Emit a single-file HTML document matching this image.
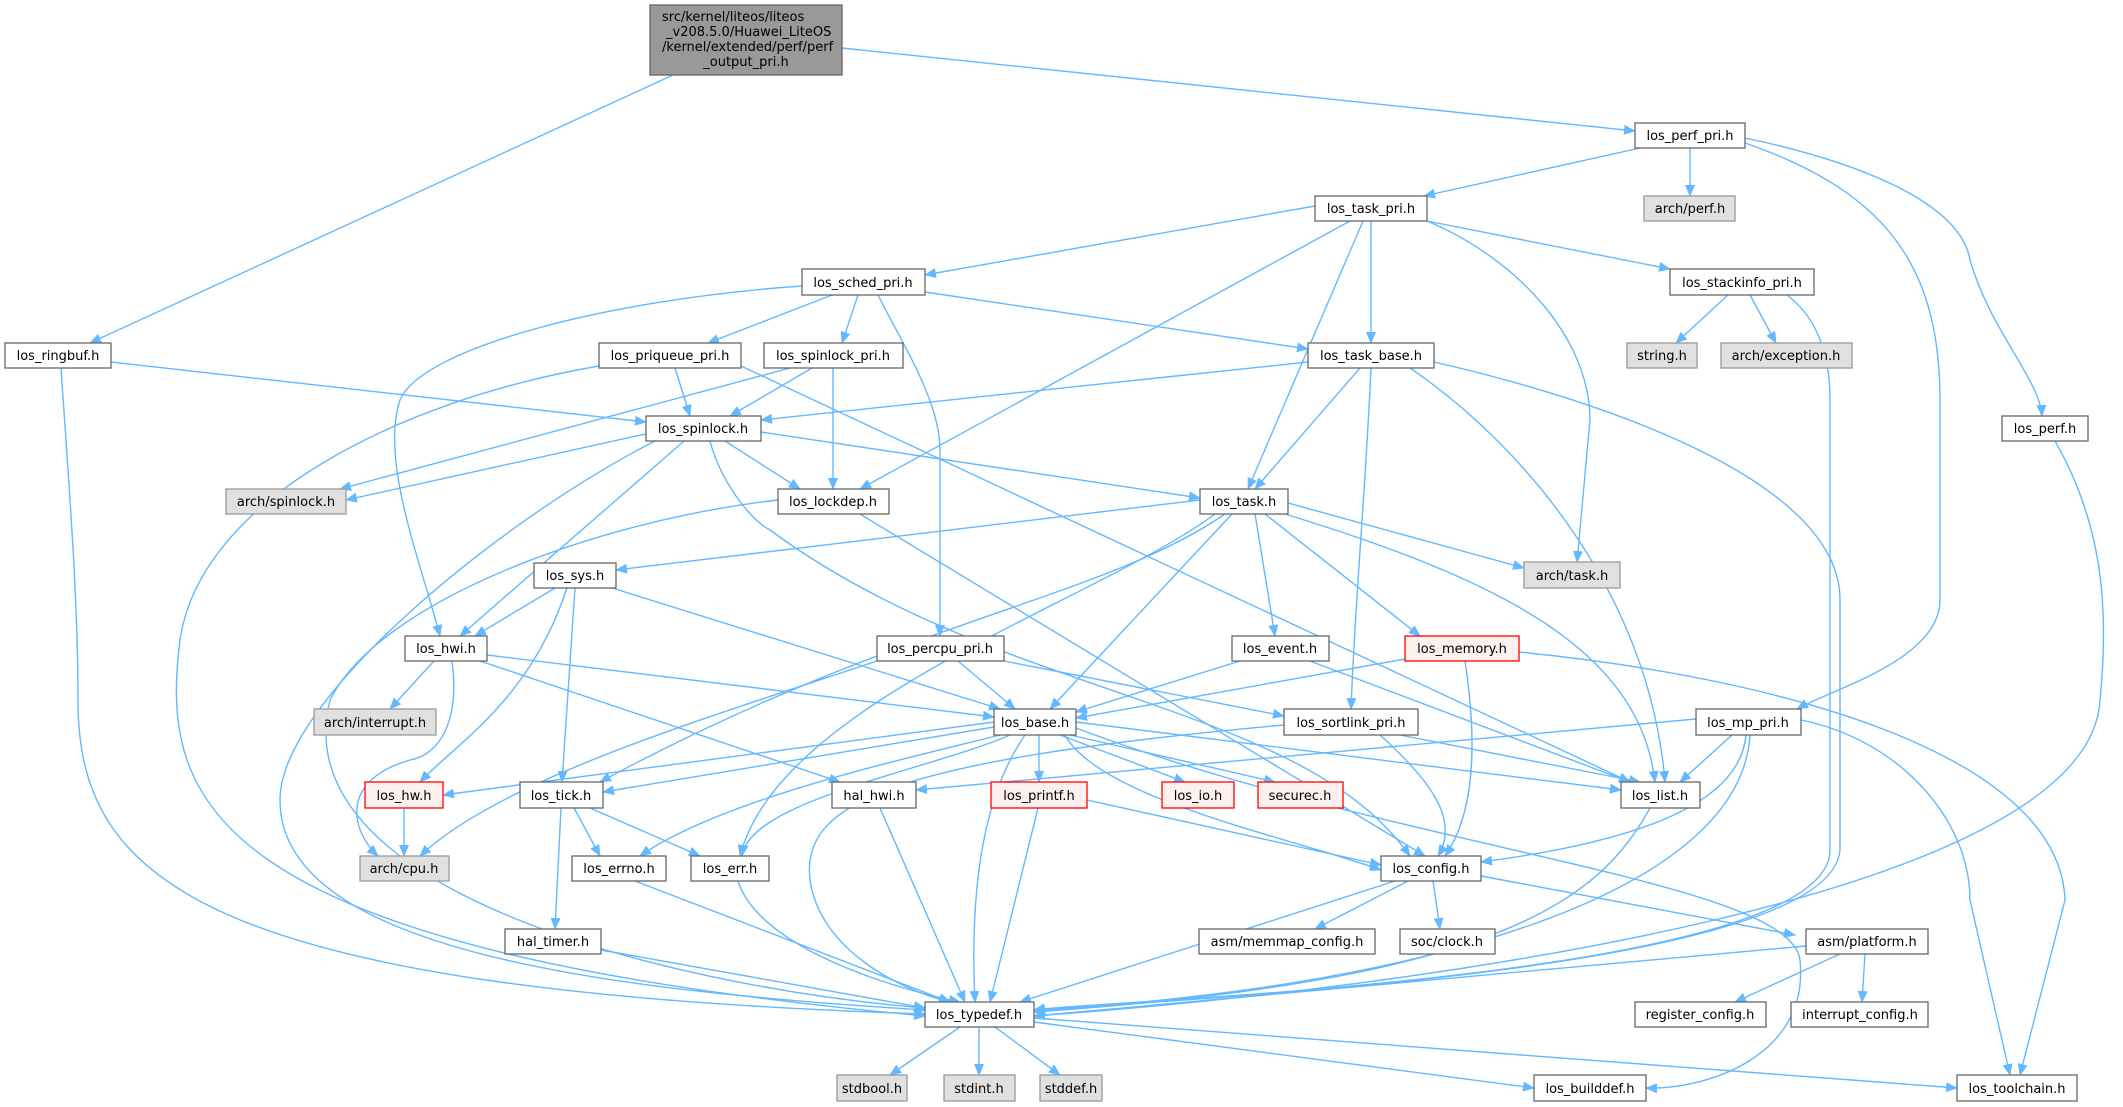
<!DOCTYPE html>
<html><head><meta charset="utf-8"><style>
html,body{margin:0;padding:0;background:#fff;}
svg{display:block}
text{font-family:"DejaVu Sans","Liberation Sans",sans-serif;font-size:13px;fill:#000}
.e{fill:none;stroke:#63b8ff;stroke-width:1.4}
.n{fill:#fff;stroke:#666;stroke-width:1.3}
.g{fill:#e0e0e0;stroke:#999;stroke-width:1.3}
.r{fill:#fff0f0;stroke:#f00;stroke-width:1.3}
</style></head><body>
<svg width="2123" height="1107" viewBox="0 0 2123 1107" xmlns="http://www.w3.org/2000/svg">
<defs><marker id="a" markerWidth="12" markerHeight="10" refX="11" refY="5" orient="auto" markerUnits="userSpaceOnUse"><path d="M0,0 L12,5 L0,10 z" fill="#63b8ff"/></marker></defs>
<g class="e" marker-end="url(#a)">
<path d="M673,75 L90,343"/>
<path d="M842,48 L1635,131"/>
<path d="M1640,148 L1424,196"/>
<path d="M1690,148 L1690,196"/>
<path d="M1745,143 C1880,190 1940,260 1940,400 L1940,600 C1940,660 1830,690 1797,709"/>
<path d="M1745,138 C1850,160 1960,200 1970,260 C1990,330 2040,380 2042,416"/>
<path d="M1315,206 L925,275"/>
<path d="M1350,221 L860,489"/>
<path d="M1363,221 L1248,489"/>
<path d="M1371,221 L1371,343"/>
<path d="M1427,221 C1520,260 1590,340 1590,420 L1577,562"/>
<path d="M1427,221 L1670,269"/>
<path d="M1728,295 L1676,343"/>
<path d="M1750,295 L1776,343"/>
<path d="M1787,295 C1820,320 1830,360 1830,400 L1830,850 C1830,980 1100,1000 1034,1010"/>
<path d="M802,286 C600,300 420,350 400,400 C380,460 420,560 440,636"/>
<path d="M832,295 L708,343"/>
<path d="M858,295 L842,343"/>
<path d="M878,295 C900,340 940,400 940,450 L940,636"/>
<path d="M925,292 L1308,349"/>
<path d="M111,362 L646,422"/>
<path d="M61,368 C70,500 78,600 78,700 C78,880 200,990 925,1014"/>
<path d="M675,368 L690,416"/>
<path d="M599,366 C400,400 200,500 180,640 C160,800 200,950 925,1016"/>
<path d="M741,366 L1630,782"/>
<path d="M790,368 L340,489"/>
<path d="M812,368 L730,416"/>
<path d="M833,368 L833,489"/>
<path d="M1308,362 L761,420"/>
<path d="M1360,368 L1255,489"/>
<path d="M1371,368 C1365,500 1355,600 1351,709"/>
<path d="M1410,368 C1530,450 1650,600 1665,782"/>
<path d="M1434,362 C1600,400 1840,480 1840,600 L1840,850 C1830,980 1100,1000 1034,1012"/>
<path d="M650,433 L346,500"/>
<path d="M725,441 L800,489"/>
<path d="M761,432 L1200,498"/>
<path d="M655,441 C500,520 280,700 280,800 C280,950 600,990 925,1010"/>
<path d="M684,441 L460,636"/>
<path d="M710,441 C720,480 750,520 770,530 C1000,700 1300,700 1410,856"/>
<path d="M778,500 C600,520 380,600 330,700 C280,900 700,990 925,1008"/>
<path d="M860,514 L1425,856"/>
<path d="M1200,500 L616,570"/>
<path d="M1288,503 L1524,568"/>
<path d="M1255,514 L1275,636"/>
<path d="M1265,514 L1420,636"/>
<path d="M1232,514 L1050,709"/>
<path d="M1225,514 C1100,600 900,620 600,782"/>
<path d="M1215,514 C1100,600 780,700 740,856"/>
<path d="M1285,514 C1500,580 1640,650 1655,782"/>
<path d="M555,588 L475,636"/>
<path d="M575,588 L562,782"/>
<path d="M567,588 C530,700 460,740 420,782"/>
<path d="M612,588 L1000,709"/>
<path d="M434,661 L390,709"/>
<path d="M452,661 C460,720 440,755 410,760 C340,780 350,830 378,856"/>
<path d="M487,655 L994,717"/>
<path d="M480,661 L840,782"/>
<path d="M958,661 L1015,709"/>
<path d="M877,661 C700,720 500,780 420,856"/>
<path d="M1004,661 L1284,716"/>
<path d="M1240,661 L1076,712"/>
<path d="M1310,661 L1630,782"/>
<path d="M1405,659 L1076,718"/>
<path d="M1465,661 C1480,760 1470,820 1445,856"/>
<path d="M1519,652 C1800,680 2060,760 2065,900 L2020,1075"/>
<path d="M1400,735 L1640,782"/>
<path d="M1380,735 C1430,780 1460,820 1438,856"/>
<path d="M1284,725 C900,760 800,800 810,880 C820,950 900,990 950,1002"/>
<path d="M1732,735 L1680,782"/>
<path d="M1746,735 C1740,800 1650,840 1481,862"/>
<path d="M1750,735 C1740,900 1400,990 1034,1010"/>
<path d="M1801,720 C1900,740 1970,820 1970,900 L2010,1075"/>
<path d="M1696,719 L916,790"/>
<path d="M994,722 L443,795"/>
<path d="M994,727 L603,792"/>
<path d="M1000,735 C900,760 720,800 640,856"/>
<path d="M1010,735 C930,770 750,800 742,856"/>
<path d="M1025,735 C980,800 970,900 975,1002"/>
<path d="M1039,735 L1039,782"/>
<path d="M1060,735 L1185,782"/>
<path d="M1070,735 L1275,782"/>
<path d="M1076,722 L1621,790"/>
<path d="M1065,735 C1100,800 1300,840 1381,870"/>
<path d="M1076,728 C1400,850 1790,880 1800,960 C1810,1060 1700,1090 1646,1088"/>
<path d="M404,808 L404,856"/>
<path d="M574,808 L600,856"/>
<path d="M590,808 L700,856"/>
<path d="M561,808 L555,929"/>
<path d="M880,808 L965,1002"/>
<path d="M1087,800 L1381,865"/>
<path d="M1038,808 L990,1002"/>
<path d="M1650,808 C1600,900 1500,980 1034,1012"/>
<path d="M635,881 L950,1002"/>
<path d="M738,881 C760,950 900,990 960,1002"/>
<path d="M601,950 L925,1008"/>
<path d="M1395,881 L1020,1002"/>
<path d="M1408,881 L1315,929"/>
<path d="M1433,881 L1440,929"/>
<path d="M1481,876 L1795,935"/>
<path d="M1806,946 L1034,1016"/>
<path d="M1840,954 L1735,1002"/>
<path d="M1865,954 L1862,1002"/>
<path d="M2055,441 C2100,520 2110,600 2100,700 C2090,900 1400,990 1034,1016"/>
<path d="M960,1027 L890,1075"/>
<path d="M979,1027 L979,1075"/>
<path d="M995,1027 L1060,1075"/>
<path d="M1034,1022 L1534,1088"/>
<path d="M1034,1018 L1957,1088"/>
</g>
<rect x="650" y="5" width="192" height="70" fill="#999" stroke="#666" stroke-width="1.3"/>
<text x="662" y="21">src/kernel/liteos/liteos</text>
<text x="666" y="36">_v208.5.0/Huawei_LiteOS</text>
<text x="662" y="51">/kernel/extended/perf/perf</text>
<text x="746" y="66" text-anchor="middle">_output_pri.h</text>
<g id="nodes">
<rect class="n" x="5" y="343" width="106" height="25"/><text x="58" y="360" text-anchor="middle">los_ringbuf.h</text>
<rect class="n" x="599" y="343" width="142" height="25"/><text x="670" y="360" text-anchor="middle">los_priqueue_pri.h</text>
<rect class="n" x="764" y="343" width="139" height="25"/><text x="833" y="360" text-anchor="middle">los_spinlock_pri.h</text>
<rect class="n" x="802" y="269" width="123" height="26"/><text x="863" y="287" text-anchor="middle">los_sched_pri.h</text>
<rect class="n" x="646" y="416" width="115" height="25"/><text x="703" y="433" text-anchor="middle">los_spinlock.h</text>
<rect class="g" x="226" y="489" width="120" height="25"/><text x="286" y="506" text-anchor="middle">arch/spinlock.h</text>
<rect class="n" x="778" y="489" width="111" height="25"/><text x="833" y="506" text-anchor="middle">los_lockdep.h</text>
<rect class="n" x="1635" y="123" width="110" height="25"/><text x="1690" y="140" text-anchor="middle">los_perf_pri.h</text>
<rect class="n" x="1315" y="196" width="112" height="25"/><text x="1371" y="213" text-anchor="middle">los_task_pri.h</text>
<rect class="g" x="1644" y="196" width="91" height="25"/><text x="1690" y="213" text-anchor="middle">arch/perf.h</text>
<rect class="n" x="1670" y="269" width="144" height="26"/><text x="1742" y="287" text-anchor="middle">los_stackinfo_pri.h</text>
<rect class="n" x="1308" y="343" width="126" height="25"/><text x="1371" y="360" text-anchor="middle">los_task_base.h</text>
<rect class="g" x="1627" y="343" width="70" height="25"/><text x="1662" y="360" text-anchor="middle">string.h</text>
<rect class="g" x="1721" y="343" width="131" height="25"/><text x="1786" y="360" text-anchor="middle">arch/exception.h</text>
<rect class="n" x="2002" y="416" width="86" height="25"/><text x="2045" y="433" text-anchor="middle">los_perf.h</text>
<rect class="n" x="1200" y="489" width="88" height="25"/><text x="1244" y="506" text-anchor="middle">los_task.h</text>
<rect class="g" x="1524" y="562" width="96" height="26"/><text x="1572" y="580" text-anchor="middle">arch/task.h</text>
<rect class="n" x="534" y="563" width="82" height="25"/><text x="575" y="580" text-anchor="middle">los_sys.h</text>
<rect class="n" x="405" y="636" width="82" height="25"/><text x="446" y="653" text-anchor="middle">los_hwi.h</text>
<rect class="n" x="877" y="636" width="127" height="25"/><text x="940" y="653" text-anchor="middle">los_percpu_pri.h</text>
<rect class="n" x="1232" y="636" width="97" height="25"/><text x="1280" y="653" text-anchor="middle">los_event.h</text>
<rect class="r" x="1405" y="636" width="114" height="25"/><text x="1462" y="653" text-anchor="middle">los_memory.h</text>
<rect class="g" x="314" y="709" width="122" height="26"/><text x="375" y="727" text-anchor="middle">arch/interrupt.h</text>
<rect class="n" x="994" y="709" width="82" height="26"/><text x="1035" y="727" text-anchor="middle">los_base.h</text>
<rect class="n" x="1284" y="709" width="134" height="26"/><text x="1351" y="727" text-anchor="middle">los_sortlink_pri.h</text>
<rect class="n" x="1696" y="709" width="105" height="26"/><text x="1748" y="727" text-anchor="middle">los_mp_pri.h</text>
<rect class="r" x="365" y="782" width="78" height="26"/><text x="404" y="800" text-anchor="middle">los_hw.h</text>
<rect class="n" x="520" y="782" width="83" height="26"/><text x="561" y="800" text-anchor="middle">los_tick.h</text>
<rect class="n" x="832" y="782" width="84" height="26"/><text x="874" y="800" text-anchor="middle">hal_hwi.h</text>
<rect class="r" x="991" y="782" width="96" height="26"/><text x="1039" y="800" text-anchor="middle">los_printf.h</text>
<rect class="r" x="1162" y="782" width="72" height="26"/><text x="1198" y="800" text-anchor="middle">los_io.h</text>
<rect class="r" x="1258" y="782" width="85" height="26"/><text x="1300" y="800" text-anchor="middle">securec.h</text>
<rect class="n" x="1621" y="782" width="79" height="26"/><text x="1660" y="800" text-anchor="middle">los_list.h</text>
<rect class="g" x="360" y="856" width="89" height="25"/><text x="404" y="873" text-anchor="middle">arch/cpu.h</text>
<rect class="n" x="572" y="856" width="94" height="25"/><text x="619" y="873" text-anchor="middle">los_errno.h</text>
<rect class="n" x="691" y="856" width="78" height="25"/><text x="730" y="873" text-anchor="middle">los_err.h</text>
<rect class="n" x="1381" y="856" width="100" height="25"/><text x="1431" y="873" text-anchor="middle">los_config.h</text>
<rect class="n" x="505" y="929" width="96" height="25"/><text x="553" y="946" text-anchor="middle">hal_timer.h</text>
<rect class="n" x="1199" y="929" width="176" height="25"/><text x="1287" y="946" text-anchor="middle">asm/memmap_config.h</text>
<rect class="n" x="1400" y="929" width="95" height="25"/><text x="1447" y="946" text-anchor="middle">soc/clock.h</text>
<rect class="n" x="1806" y="929" width="122" height="25"/><text x="1867" y="946" text-anchor="middle">asm/platform.h</text>
<rect class="n" x="925" y="1002" width="109" height="25"/><text x="979" y="1019" text-anchor="middle">los_typedef.h</text>
<rect class="n" x="1635" y="1002" width="131" height="25"/><text x="1700" y="1019" text-anchor="middle">register_config.h</text>
<rect class="n" x="1791" y="1002" width="137" height="25"/><text x="1860" y="1019" text-anchor="middle">interrupt_config.h</text>
<rect class="g" x="837" y="1075" width="70" height="26"/><text x="872" y="1093" text-anchor="middle">stdbool.h</text>
<rect class="g" x="944" y="1075" width="71" height="26"/><text x="979" y="1093" text-anchor="middle">stdint.h</text>
<rect class="g" x="1040" y="1075" width="62" height="26"/><text x="1071" y="1093" text-anchor="middle">stddef.h</text>
<rect class="n" x="1534" y="1075" width="112" height="26"/><text x="1590" y="1093" text-anchor="middle">los_builddef.h</text>
<rect class="n" x="1957" y="1075" width="120" height="26"/><text x="2017" y="1093" text-anchor="middle">los_toolchain.h</text>
</g>
</svg>
</body></html>
